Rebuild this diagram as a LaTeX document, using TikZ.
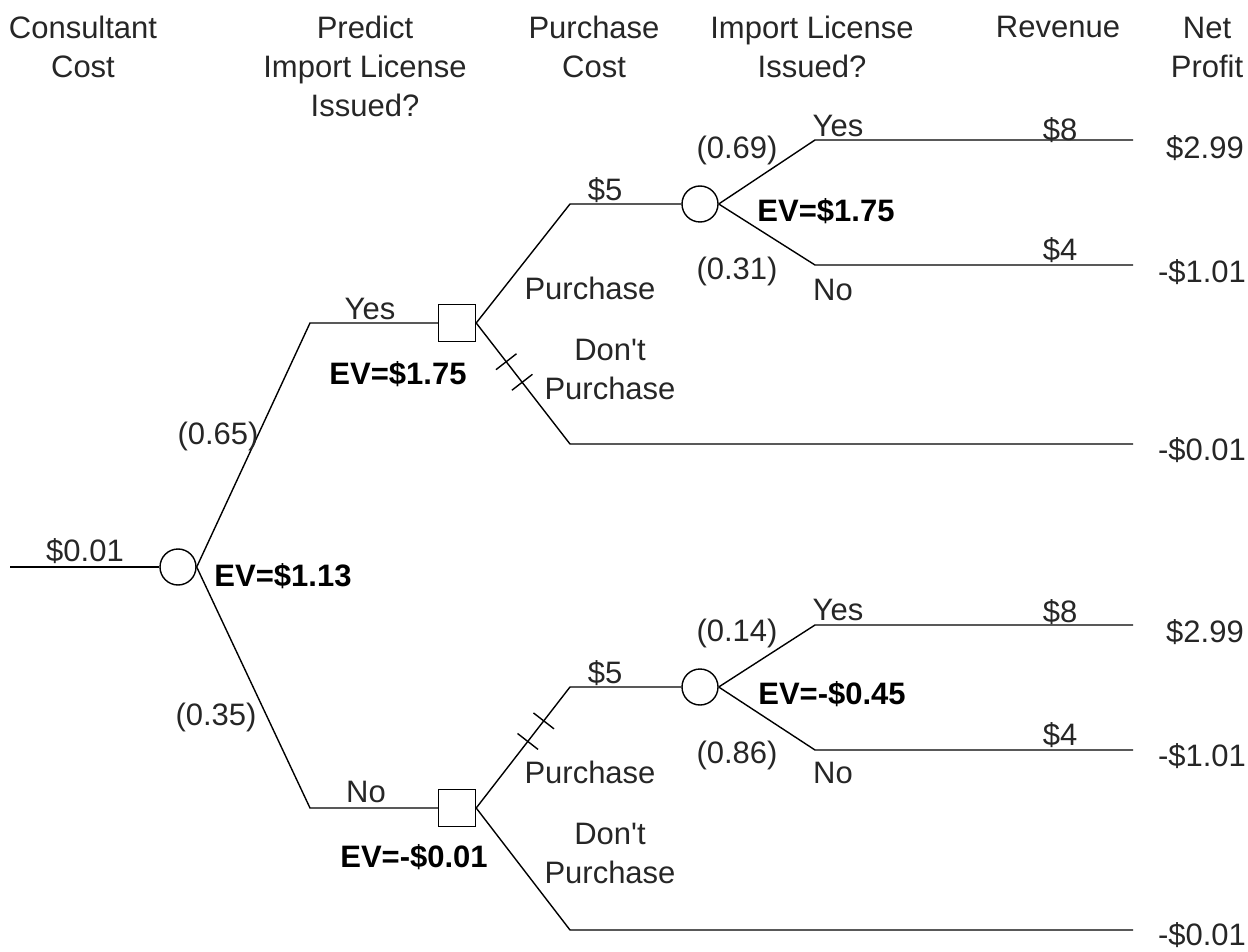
\documentclass[tikz,border=0pt]{standalone}
\usepackage{fontspec}
\setmainfont{Liberation Sans}
\usetikzlibrary{positioning}

\tikzset{
chance/.style={circle,draw,minimum size=18pt,inner sep=0pt},
choice/.style={rectangle,draw,minimum size=18.5pt,inner sep=0pt},
lbl/.style={inner sep=1pt,text=black!85,font=\fontsize{15.5}{19.5}\selectfont},
ev/.style={inner sep=1pt,text=black,font=\fontsize{15.5}{19.5}\selectfont\bfseries},
head/.style={lbl,align=center},
tick/.style={draw,sloped,minimum width=0pt,minimum height=13pt,inner sep=0pt}
}

\begin{document}
\begin{tikzpicture}[x=0.5pt,y=-0.5pt,line width=0.7pt]
\useasboundingbox (0,0) rectangle (1248,952);

% column heads
\node[head] (hc) at (83,47) {Consultant\\Cost};
\node[head] (hp) at (365,66) {Predict\\Import License\\Issued?};
\node[head] (hb) at (594,47) {Purchase\\Cost};
\node[head] (hi) at (812,47) {Import License\\Issued?};
\node[head] (hr) at (1058,27) {Revenue};
\node[head] (hn) at (1207,47) {Net\\Profit};

% nodes of the tree
\node[chance] (c1) at (178,567) {};
\node[choice] (d1) at (457,323) {};
\node[choice] (d2) at (457,808) {};
\node[chance] (c2) at (700,204) {};
\node[chance] (c3) at (700,687) {};

\coordinate (r0) at (10,567);
\coordinate (k1) at (310,323);
\coordinate (k2) at (310,808);
\coordinate (k3) at (570,204);
\coordinate (k4) at (570,444);
\coordinate (k5) at (570,687);
\coordinate (k6) at (570,930);
\coordinate (k7) at (815,140);
\coordinate (k8) at (815,265);
\coordinate (k9) at (815,625);
\coordinate (k10) at (815,750);
\coordinate (e1) at (1133,140);
\coordinate (e2) at (1133,265);
\coordinate (e3) at (1133,444);
\coordinate (e4) at (1133,625);
\coordinate (e5) at (1133,750);
\coordinate (e6) at (1133,930);

\draw (r0)--(c1);
\draw (c1.east)--(k1)--(d1) (c1.east)--(k2)--(d2);
\draw (d1.east)--(k3)--(c2) (d1.east)-- node[tick,pos=.32]{} node[tick,pos=.49]{} (k4)--(e3);
\draw (d2.east)-- node[tick,pos=.55]{} node[tick,pos=.72]{} (k5)--(c3) (d2.east)--(k6)--(e6);
\draw (c2.east)--(k7)--(e1) (c2.east)--(k8)--(e2);
\draw (c3.east)--(k9)--(e4) (c3.east)--(k10)--(e5);

% labels
\node[lbl] (l1) at (85,551) {\$0.01};
\node[lbl] (l2) at (218,436) {(0.65)};
\node[lbl] (l3) at (216,717) {(0.35)};
\node[lbl] (l4) at (370,309) {Yes};
\node[lbl] (l5) at (366,792) {No};
\node[ev] (v1) at (283,576) {EV=\$1.13};
\node[ev] (v2) at (398,374) {EV=\$1.75};
\node[ev] (v3) at (414,857) {EV=-\$0.01};

\node[lbl] (l6) at (605,190) {\$5};
\node[lbl] (l7) at (590,288) {Purchase};
\node[lbl,align=center] (l8) at (610,369) {Don\textquotesingle t\\Purchase};
\node[lbl] (l9) at (605,673) {\$5};
\node[lbl] (l10) at (590,772) {Purchase};
\node[lbl,align=center] (l11) at (610,853) {Don\textquotesingle t\\Purchase};

\node[lbl] (p1) at (737,150) {(0.69)};
\node[lbl] (p2) at (737,271) {(0.31)};
\node[lbl] (p3) at (737,633) {(0.14)};
\node[lbl] (p4) at (737,755) {(0.86)};
\node[lbl] (y1) at (838,126) {Yes};
\node[lbl] (n1) at (833,290) {No};
\node[lbl] (y2) at (838,610) {Yes};
\node[lbl] (n2) at (833,773) {No};
\node[ev] (v4) at (826,211) {EV=\$1.75};
\node[ev] (v5) at (832,694) {EV=-\$0.45};

\node[lbl] (s1) at (1060,130) {\$8};
\node[lbl] (s2) at (1060,250) {\$4};
\node[lbl] (s3) at (1060,612) {\$8};
\node[lbl] (s4) at (1060,735) {\$4};

\node[lbl] (t1) at (1205,148) {\$2.99};
\node[lbl] (t2) at (1202,272) {-\$1.01};
\node[lbl] (t3) at (1202,450) {-\$0.01};
\node[lbl] (t4) at (1205,632) {\$2.99};
\node[lbl] (t5) at (1202,756) {-\$1.01};
\node[lbl] (t6) at (1202,935) {-\$0.01};
\end{tikzpicture}
\end{document}
